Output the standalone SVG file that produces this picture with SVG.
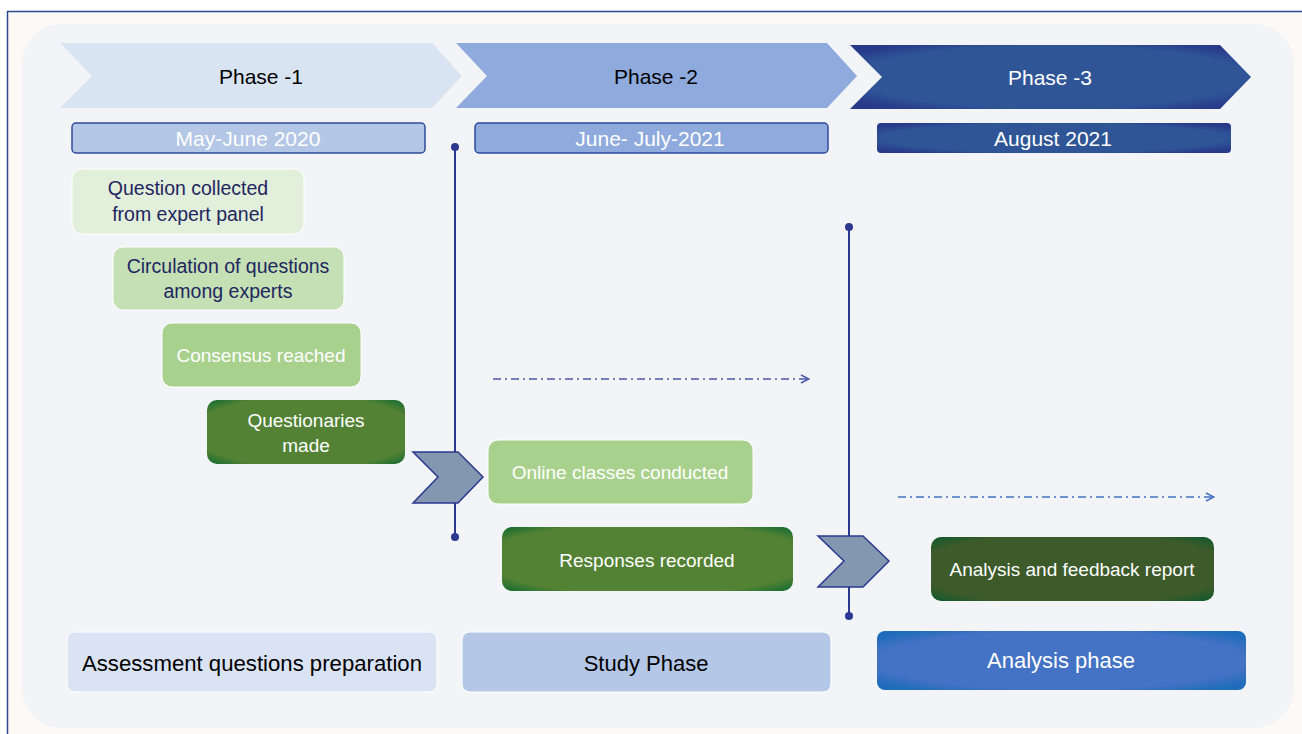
<svg xmlns="http://www.w3.org/2000/svg" width="1302" height="734" viewBox="0 0 1302 734">
<defs>
<style>
text{font-family:"Liberation Sans","Noto Sans",sans-serif;text-anchor:middle}
.t-dark{fill:#1F2660;font-size:19.5px}
.t-white{fill:#FFFFFF;font-size:19px}
.t-black{fill:#000000;font-size:22px}
.vline{stroke:#2B3990;stroke-width:2;fill:none}
.dot{fill:#2B3990}
.chev{fill:#8497B0;stroke:#2B3990;stroke-width:1.5}
.dash{fill:none;stroke-width:1.5;stroke-dasharray:8 4 2 4}
</style>
<radialGradient id="gP3" cx="50%" cy="50%" r="62%">
<stop offset="0.78" stop-color="#2F5597"/><stop offset="1" stop-color="#283A8A"/>
</radialGradient>
<radialGradient id="gDark" cx="50%" cy="50%" r="68%">
<stop offset="0.82" stop-color="#548235"/><stop offset="1" stop-color="#1A6E30"/>
</radialGradient>
<radialGradient id="gDarker" cx="50%" cy="50%" r="68%">
<stop offset="0.82" stop-color="#3C5A2A"/><stop offset="1" stop-color="#145A2C"/>
</radialGradient>
<radialGradient id="gAn" cx="50%" cy="50%" r="64%">
<stop offset="0.78" stop-color="#4472C4"/><stop offset="1" stop-color="#1E6CBA"/>
</radialGradient>
<marker id="arr1" markerWidth="10" markerHeight="10" refX="9" refY="5" orient="auto" markerUnits="userSpaceOnUse">
<path d="M1,1 L9,5 L1,9" fill="none" stroke="#4A5AA8" stroke-width="1.5"/>
</marker>
<marker id="arr2" markerWidth="10" markerHeight="10" refX="9" refY="5" orient="auto" markerUnits="userSpaceOnUse">
<path d="M1,1 L9,5 L1,9" fill="none" stroke="#4472C4" stroke-width="1.5"/>
</marker>
</defs>

<rect x="0" y="0" width="1302" height="734" fill="#FFFFFF"/>
<rect x="8" y="12" width="1300" height="730" fill="#FCF9F6"/>
<rect x="22" y="24" width="1272" height="704" rx="40" fill="#F2F4F7"/>
<path d="M7.5,734 L7.5,11.5 L1302,11.5" fill="none" stroke="#2F4A8F" stroke-width="1.5"/>

<g id="phase1">
<polygon points="60,43 432,43 462,76 432,108 60,108 92,76" fill="#D9E4F2"/>
<text x="261" y="84" class="t-black" style="font-size:21px">Phase -1</text>
</g>
<g id="phase2">
<polygon points="456,43 827,43 857,76 827,108 456,108 487,76" fill="#8FAADC"/>
<text x="656" y="84" class="t-black" style="font-size:21px">Phase -2</text>
</g>
<g id="phase3">
<polygon points="850,45 1220,45 1251,77 1220,109 850,109 882,77" fill="url(#gP3)"/>
<text x="1050" y="85" class="t-white" style="font-size:21px">Phase -3</text>
</g>

<g id="date1">
<rect x="72" y="123" width="353" height="30" rx="4" fill="#B4C7E7" stroke="#2F4A9A" stroke-width="1.5"/>
<text x="248" y="146" class="t-white" style="font-size:21px">May-June 2020</text>
</g>
<g id="date2">
<rect x="475" y="123" width="353" height="30" rx="4" fill="#8FAADC" stroke="#2F4A9A" stroke-width="1.5"/>
<text x="650" y="146" class="t-white" style="font-size:21px">June- July-2021</text>
</g>
<g id="date3">
<rect x="877" y="123" width="354" height="30" rx="4" fill="url(#gP3)"/>
<text x="1053" y="146" class="t-white" style="font-size:21px">August 2021</text>
</g>

<g id="connectors">
<line x1="455" y1="147" x2="455" y2="537" class="vline"/>
<circle cx="455" cy="147" r="4" class="dot"/>
<circle cx="455" cy="537" r="4" class="dot"/>
<line x1="849" y1="227" x2="849" y2="616" class="vline"/>
<circle cx="849" cy="227" r="4" class="dot"/>
<circle cx="849" cy="616" r="4" class="dot"/>
<line x1="493" y1="379" x2="809" y2="379" class="dash" stroke="#4A5AA8" marker-end="url(#arr1)"/>
<line x1="898" y1="497" x2="1214" y2="497" class="dash" stroke="#4472C4" marker-end="url(#arr2)"/>
<polygon points="413,452 458,452 483,477 458,503 413,503 438,477" class="chev"/>
<polygon points="818,536 863,536 889,561 863,587 818,587 844,561" class="chev"/>
</g>

<g id="q-collected">
<rect x="72" y="169" width="232" height="65" rx="10" fill="#E2EFDA" stroke="#FFFFFF" stroke-width="1"/>
<text x="188" y="195" class="t-dark">Question collected</text>
<text x="188" y="221" class="t-dark">from expert panel</text>
</g>
<g id="q-circulation">
<rect x="113" y="247" width="231" height="63" rx="10" fill="#C5E0B4" stroke="#FFFFFF" stroke-width="1"/>
<text x="228" y="273" class="t-dark">Circulation of questions</text>
<text x="228" y="298" class="t-dark">among experts</text>
</g>
<g id="q-consensus">
<rect x="162" y="323" width="199" height="64" rx="10" fill="#A9D18E" stroke="#FFFFFF" stroke-width="1"/>
<text x="261" y="362" class="t-white">Consensus reached</text>
</g>
<g id="q-made">
<rect x="207" y="400" width="198" height="64" rx="10" fill="url(#gDark)"/>
<text x="306" y="427" class="t-white">Questionaries</text>
<text x="306" y="452" class="t-white">made</text>
</g>
<g id="online">
<rect x="488" y="440" width="265" height="64" rx="10" fill="#A9D18E" stroke="#FFFFFF" stroke-width="1"/>
<text x="620" y="479" class="t-white">Online classes conducted</text>
</g>
<g id="responses">
<rect x="502" y="527" width="291" height="64" rx="10" fill="url(#gDark)"/>
<text x="647" y="567" class="t-white">Responses recorded</text>
</g>
<g id="analysis-report">
<rect x="931" y="537" width="283" height="64" rx="10" fill="url(#gDarker)"/>
<text x="1072" y="576" class="t-white">Analysis and feedback report</text>
</g>

<g id="assessment">
<rect x="67" y="632" width="370" height="60" rx="8" fill="#DAE3F3" stroke="#FFFFFF" stroke-width="1"/>
<text x="252" y="671" class="t-black" textLength="340" lengthAdjust="spacingAndGlyphs">Assessment questions preparation</text>
</g>
<g id="study">
<rect x="462" y="632" width="369" height="60" rx="8" fill="#B4C7E7" stroke="#FFFFFF" stroke-width="1"/>
<text x="646" y="671" class="t-black">Study Phase</text>
</g>
<g id="analysis-phase">
<rect x="877" y="631" width="369" height="59" rx="8" fill="url(#gAn)"/>
<text x="1061" y="668" class="t-white" style="font-size:22px">Analysis phase</text>
</g>
</svg>
